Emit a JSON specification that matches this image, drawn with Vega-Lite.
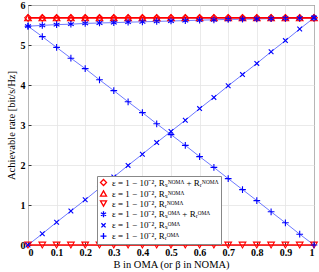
{
  "$schema": "https://vega.github.io/schema/vega-lite/v6.json",
  "width": 286,
  "height": 240,
  "autosize": "none",
  "padding": {"left": 28, "top": 5, "right": 5, "bottom": 27},
  "config": {
    "font": "Liberation Serif",
    "view": {"stroke": "black", "strokeWidth": 1},
    "axis": {"domain": false, "gridColor": "#e4e4e4", "gridWidth": 0.8, "tickColor": "#333", "tickSize": -3, "labelFont": "Liberation Serif", "labelFontWeight": "bold", "labelFontSize": 10, "labelColor": "black", "titleFont": "Liberation Serif", "titleFontWeight": "normal", "titleFontSize": 10.5, "titleColor": "black"}
  },
  "data": {"values": [
    {"B": 0, "a": 5.68, "b": 5.68, "c": 0, "d": 5.47, "e": 0, "f": 5.47},
    {"B": 0.05, "a": 5.68, "b": 5.68, "c": 0, "d": 5.49, "e": 0.28, "f": 5.21},
    {"B": 0.1, "a": 5.68, "b": 5.68, "c": 0, "d": 5.51, "e": 0.57, "f": 4.94},
    {"B": 0.15, "a": 5.68, "b": 5.68, "c": 0, "d": 5.52, "e": 0.85, "f": 4.67},
    {"B": 0.2, "a": 5.68, "b": 5.68, "c": 0, "d": 5.54, "e": 1.13, "f": 4.41},
    {"B": 0.25, "a": 5.68, "b": 5.68, "c": 0, "d": 5.55, "e": 1.42, "f": 4.13},
    {"B": 0.3, "a": 5.68, "b": 5.68, "c": 0, "d": 5.56, "e": 1.70, "f": 3.86},
    {"B": 0.35, "a": 5.68, "b": 5.68, "c": 0, "d": 5.57, "e": 1.99, "f": 3.58},
    {"B": 0.4, "a": 5.68, "b": 5.68, "c": 0, "d": 5.58, "e": 2.27, "f": 3.31},
    {"B": 0.45, "a": 5.68, "b": 5.68, "c": 0, "d": 5.59, "e": 2.56, "f": 3.03},
    {"B": 0.5, "a": 5.68, "b": 5.68, "c": 0, "d": 5.60, "e": 2.84, "f": 2.76},
    {"B": 0.55, "a": 5.68, "b": 5.68, "c": 0, "d": 5.61, "e": 3.12, "f": 2.49},
    {"B": 0.6, "a": 5.68, "b": 5.68, "c": 0, "d": 5.62, "e": 3.41, "f": 2.21},
    {"B": 0.65, "a": 5.68, "b": 5.68, "c": 0, "d": 5.63, "e": 3.69, "f": 1.94},
    {"B": 0.7, "a": 5.68, "b": 5.68, "c": 0, "d": 5.64, "e": 3.98, "f": 1.66},
    {"B": 0.75, "a": 5.68, "b": 5.68, "c": 0, "d": 5.645, "e": 4.26, "f": 1.385},
    {"B": 0.8, "a": 5.68, "b": 5.68, "c": 0, "d": 5.65, "e": 4.54, "f": 1.11},
    {"B": 0.85, "a": 5.68, "b": 5.68, "c": 0, "d": 5.66, "e": 4.83, "f": 0.83},
    {"B": 0.9, "a": 5.68, "b": 5.68, "c": 0, "d": 5.665, "e": 5.11, "f": 0.555},
    {"B": 0.95, "a": 5.68, "b": 5.68, "c": 0, "d": 5.67, "e": 5.40, "f": 0.27},
    {"B": 1, "a": 5.68, "b": 5.68, "c": 0, "d": 5.68, "e": 5.68, "f": 0}
  ]},
  "transform": [{"fold": ["a", "b", "c", "d", "e", "f"], "as": ["series", "rate"]}],
  "encoding": {
    "x": {"field": "B", "type": "quantitative", "scale": {"domain": [0, 1], "nice": false},
      "axis": {"values": [0, 0.1, 0.2, 0.3, 0.4, 0.5, 0.6, 0.7, 0.8, 0.9, 1], "format": ".1~f", "title": "B in OMA (or β in NOMA)", "labelPadding": 5, "titlePadding": 2, "labelOverlap": false}},
    "y": {"field": "rate", "type": "quantitative", "scale": {"domain": [0, 6], "nice": false},
      "axis": {"values": [0, 1, 2, 3, 4, 5, 6], "title": "Achievable rate [bit/s/Hz]", "labelPadding": 6, "titlePadding": 4}}
  },
  "layer": [
    {
      "transform": [{"filter": "indexof(['d','e','f'], datum.series) >= 0"}],
      "mark": {"type": "line", "strokeWidth": 0.9, "opacity": 0.8},
      "encoding": {
        "detail": {"field": "series"},
        "stroke": {"value": "#3344ff"}
      }
    },
    {
      "transform": [{"filter": "indexof(['a','b','c'], datum.series) >= 0"}],
      "mark": {"type": "line", "strokeWidth": 1.6},
      "encoding": {
        "detail": {"field": "series"},
        "stroke": {"value": "#ff0000"}
      }
    },
    {
      "mark": {"type": "point", "filled": false, "strokeWidth": 1.1, "size": 45, "opacity": 1},
      "encoding": {
        "color": {"field": "series", "type": "nominal",
          "scale": {"domain": ["a", "b", "c", "d", "e", "f"], "range": ["#ff0000", "#ff0000", "#ff0000", "#0000ff", "#0000ff", "#0000ff"]},
          "legend": {
            "orient": "none", "legendX": 69, "legendY": 171, "title": null,
            "strokeColor": "#888", "fillColor": "white", "padding": 2,
            "labelFontSize": 9, "labelFont": "Liberation Serif", "labelColor": "black",
            "symbolSize": 36, "symbolStrokeWidth": 1.3, "rowPadding": -1.2, "labelLimit": 300, "labelOffset": 4,
            "labelExpr": "datum.label == 'a' ? 'ε = 1 − 10⁻², Rₛᴺᴼᴹᴬ + Rᵣᴺᴼᴹᴬ' : datum.label == 'b' ? 'ε = 1 − 10⁻², Rₛᴺᴼᴹᴬ' : datum.label == 'c' ? 'ε = 1 − 10⁻², Rᵣᴺᴼᴹᴬ' : datum.label == 'd' ? 'ε = 1 − 10⁻², Rₛᴼᴹᴬ + Rᵣᴼᴹᴬ' : datum.label == 'e' ? 'ε = 1 − 10⁻², Rₛᴼᴹᴬ' : 'ε = 1 − 10⁻², Rᵣᴼᴹᴬ'"
          }},
        "shape": {"field": "series", "type": "nominal",
          "scale": {"domain": ["a", "b", "c", "d", "e", "f"], "range": ["diamond", "triangle-up", "triangle-down", "M0,-1L0,1M-0.87,-0.5L0.87,0.5M-0.87,0.5L0.87,-0.5", "M-0.7,-0.7L0.7,0.7M-0.7,0.7L0.7,-0.7", "M-1,0L1,0M0,-1L0,1"]}}
      }
    }
  ]
}
